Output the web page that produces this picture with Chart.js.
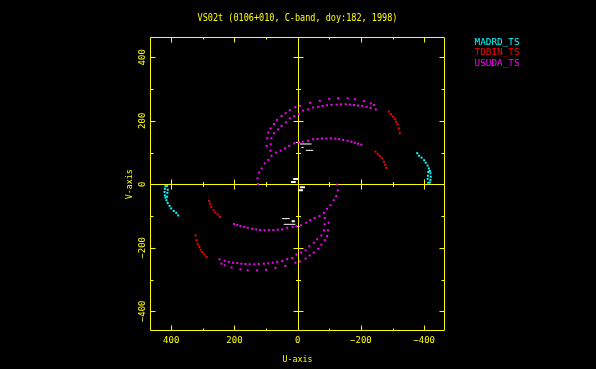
<!DOCTYPE html>
<html>
<head>
<meta charset="utf-8">
<title>VS02t uv coverage</title>
<script src="https://cdn.jsdelivr.net/npm/chart.js@4.4.0/dist/chart.umd.min.js"></script>
<style>
  html, body { margin: 0; padding: 0; background: #000; }
  #uv { display: block; }
</style>
</head>
<body>
<canvas id="uv" width="596" height="369"></canvas>
<script>
// labels and ticks
var chartTitle = 'VS02t (0106+010, C-band, doy:182, 1998)';
var xTitle = 'U-axis';
var yTitle = 'V-axis';
var majorTicks = [-400, -200, 0, 200, 400];
var minorTicks = [-300, -100, 100, 300];
var seriesNames = ['MADRD_TS', 'TDBIN_TS', 'USUDA_TS'];
var seriesColors = ['#00ffff', '#ff0000', '#ff00ff'];

// MADRD_TS (cyan), u/v in the units of the plot axes
var madrdUpperU = [-378, -384, -392, -400, -405, -411, -415, -418, -420, -421, -420, -418, -413, -412, -411, -413];
var madrdUpperV = [98, 90, 84, 76, 68, 59, 50, 42, 35, 24, 14, 6, 39, 27, 17, 5];
var madrdLowerU = [378, 384, 392, 400, 405, 411, 415, 418, 420, 421, 420, 418, 413, 412, 411, 413];
var madrdLowerV = [-98, -90, -84, -76, -68, -59, -50, -42, -35, -24, -14, -6, -39, -27, -17, -5];

// TDBIN_TS (red)
var tdbinUpperU = [-288, -295, -302, -307, -311, -316, -320, -323, -246, -253, -260, -266, -273, -277, -280];
var tdbinUpperV = [229, 221, 213, 206, 197, 189, 176, 161, 103, 95, 89, 82, 71, 61, 52];
var tdbinLowerU = [288, 295, 302, 307, 311, 316, 320, 323, 246, 253, 260, 266, 273, 277, 280];
var tdbinLowerV = [-229, -221, -213, -206, -197, -189, -176, -161, -103, -95, -89, -82, -71, -61, -52];

// USUDA_TS (magenta), three tracks above the u axis and their mirror below
var usudaUpperU = [
  98, 96, 93, 86, 75, 65, 51, 38, 25, 7, -7, -39, -70, -100, -128, -158, -181, -209, -231, -241,
  86, 85, 83, 75, 62, 51, 37, 25, 11, -4, -17, -33, -49, -65, -79, -93, -107, -123, -137, -152, -165, -178, -191, -204, -218, -231, -247,
  125, 127, 122, 114, 104, 93, 83, 69, 54, 40, 27, 11, -3, -16, -33, -49, -63, -77, -91, -105, -119, -131, -144, -158, -170, -181, -191, -201
];
var usudaUpperV = [
  121, 145, 163, 176, 190, 203, 215, 224, 234, 243, 247, 257, 263, 269, 271, 271, 268, 262, 255, 250,
  106, 126, 145, 161, 173, 184, 195, 208, 215, 221, 232, 236, 242, 244, 247, 249, 250, 251, 252, 252, 251, 250, 248, 247, 244, 241, 236,
  1, 19, 37, 50, 66, 77, 90, 100, 106, 113, 121, 129, 132, 134, 137, 142, 143, 144, 144, 145, 144, 142, 140, 137, 134, 131, 128, 125
];
var usudaLowerU = [
  -98, -96, -93, -86, -75, -65, -51, -38, -25, -7, 7, 39, 70, 100, 128, 158, 181, 209, 231, 241,
  -86, -85, -83, -75, -62, -51, -37, -25, -11, 4, 17, 33, 49, 65, 79, 93, 107, 123, 137, 152, 165, 178, 191, 204, 218, 231, 247,
  -125, -127, -122, -114, -104, -93, -83, -69, -54, -40, -27, -11, 3, 16, 33, 49, 63, 77, 91, 105, 119, 131, 144, 158, 170, 181, 191, 201
];
var usudaLowerV = [
  -121, -145, -163, -176, -190, -203, -215, -224, -234, -243, -247, -257, -263, -269, -271, -271, -268, -262, -255, -250,
  -106, -126, -145, -161, -173, -184, -195, -208, -215, -221, -232, -236, -242, -244, -247, -249, -250, -251, -252, -252, -251, -250, -248, -247, -244, -241, -236,
  -1, -19, -37, -50, -66, -77, -90, -100, -106, -113, -121, -129, -132, -134, -137, -142, -143, -144, -144, -145, -144, -142, -140, -137, -134, -131, -128, -125
];

// short white tracks near the origin: start u, end u, v
var whiteThinU0 = [6, -7, -12, -26, 49, 44, 6];
var whiteThinU1 = [-7, -44, -19, -49, 25, 7, -6];
var whiteThinV = [132, 127, 116, 107, -108, -126, -133];
var whiteThickU0 = [14, 21, -7, -2, 19];
var whiteThickU1 = [-2, 6, -23, -17, 9];
var whiteThickV = [17, 7, -9, -19, -116];


var YELLOW = '#ffff00';
var FONT = '"DejaVu Sans Mono", "Liberation Mono", monospace';

function toPoints(us, vs) {
    return us.map(function(u, i) { return { x: u, y: vs[i] }; });
}

function toSegments(u0, u1, vs) {
    var out = [];
    vs.forEach(function(v, i) {
        out.push({ x: u0[i], y: v }, { x: u1[i], y: v }, { x: null, y: null });
    });
    return out;
}

function tickText(v) {
    return v < 0 ? '\u2212' + (-v) : String(v);
}

function crisp(p) {
    return Math.round(p) + 0.5;
}

function dotSet(idx, upperU, upperV, lowerU, lowerV) {
    return {
        label: seriesNames[idx],
        data: toPoints(upperU, upperV).concat(toPoints(lowerU, lowerV)),
        backgroundColor: seriesColors[idx],
        borderWidth: 0,
        pointStyle: 'rect',
        pointRadius: 1.4,
        pointHoverRadius: 1.4,
        showLine: false
    };
}

function lineSet(data, width) {
    return {
        label: '',
        data: data,
        borderColor: '#ffffff',
        borderWidth: width,
        pointRadius: 0,
        showLine: true,
        spanGaps: false
    };
}

// frame, zero axes, ticks and all text in PGPLOT style
var pgFrame = {
    id: 'pgFrame',
    beforeDraw: function(chart) {
        var ctx = chart.ctx;
        ctx.save();
        ctx.fillStyle = '#000';
        ctx.fillRect(0, 0, chart.width, chart.height);
        ctx.restore();
    },
    beforeDatasetsDraw: function(chart) {
        var ctx = chart.ctx, a = chart.chartArea;
        var xs = chart.scales.x, ys = chart.scales.y;
        var L = crisp(a.left), R = crisp(a.right - 1), T = crisp(a.top), B = crisp(a.bottom - 1);
        var x0 = crisp(xs.getPixelForValue(0)), y0 = crisp(ys.getPixelForValue(0));

        ctx.save();
        ctx.strokeStyle = YELLOW;
        ctx.lineWidth = 1;
        ctx.beginPath();
        ctx.rect(L, T, R - L, B - T);
        // zero lines
        ctx.moveTo(x0, T); ctx.lineTo(x0, B);
        ctx.moveTo(L, y0); ctx.lineTo(R, y0);

        function xTick(v, len, axisLen) {
            var px = crisp(xs.getPixelForValue(v));
            ctx.moveTo(px, B); ctx.lineTo(px, B - len);
            ctx.moveTo(px, T); ctx.lineTo(px, T + len);
            if (v !== 0) { ctx.moveTo(px, y0 - axisLen); ctx.lineTo(px, y0 + axisLen); }
        }
        function yTick(v, len, axisLen) {
            var py = crisp(ys.getPixelForValue(v));
            ctx.moveTo(L, py); ctx.lineTo(L + len, py);
            ctx.moveTo(R, py); ctx.lineTo(R - len, py);
            if (v !== 0) { ctx.moveTo(x0 - axisLen, py); ctx.lineTo(x0 + axisLen, py); }
        }
        majorTicks.forEach(function(v) { xTick(v, 5, 5); yTick(v, 5, 5); });
        minorTicks.forEach(function(v) { xTick(v, 2, 2.5); yTick(v, 3, 2.5); });
        ctx.stroke();
        ctx.restore();
    },
    afterDraw: function(chart) {
        var ctx = chart.ctx, a = chart.chartArea;
        var xs = chart.scales.x, ys = chart.scales.y;
        var midX = (a.left + a.right) / 2;

        ctx.save();
        ctx.fillStyle = YELLOW;
        ctx.textBaseline = 'alphabetic';
        ctx.textAlign = 'center';

        ctx.font = '10px ' + FONT;
        ctx.fillText(chartTitle, midX, a.top - 16, 200);

        ctx.font = '9px ' + FONT;
        majorTicks.forEach(function(v) {
            ctx.fillText(tickText(v), xs.getPixelForValue(v), a.bottom + 11.5);
        });
        majorTicks.forEach(function(v) {
            ctx.save();
            ctx.translate(a.left - 5, ys.getPixelForValue(v));
            ctx.rotate(-Math.PI / 2);
            ctx.fillText(tickText(v), 0, 0);
            ctx.restore();
        });

        ctx.fillText(xTitle, midX, a.bottom + 30.5, 30);
        ctx.save();
        ctx.translate(a.left - 18.5, ys.getPixelForValue(0));
        ctx.rotate(-Math.PI / 2);
        ctx.fillText(yTitle, 0, 0, 30);
        ctx.restore();

        // legend: coloured names only
        ctx.textAlign = 'left';
        ctx.font = '9.5px ' + FONT;
        seriesNames.forEach(function(name, i) {
            ctx.fillStyle = seriesColors[i];
            ctx.fillText(name, a.right + 29.5, a.top + 7.5 + i * 10.5, 45);
        });
        ctx.restore();
    }
};

var ctx = document.getElementById('uv').getContext('2d');
new Chart(ctx, {
    type: 'scatter',
    data: {
        datasets: [
            dotSet(0, madrdUpperU, madrdUpperV, madrdLowerU, madrdLowerV),
            dotSet(1, tdbinUpperU, tdbinUpperV, tdbinLowerU, tdbinLowerV),
            dotSet(2, usudaUpperU, usudaUpperV, usudaLowerU, usudaLowerV),
            lineSet(toSegments(whiteThinU0, whiteThinU1, whiteThinV), 1),
            lineSet(toSegments(whiteThickU0, whiteThickU1, whiteThickV), 2)
        ]
    },
    options: {
        responsive: false,
        animation: false,
        events: [],
        layout: { padding: { left: 150, right: 151, top: 37, bottom: 38 } },
        scales: {
            x: { type: 'linear', display: false, reverse: true, min: -466, max: 467 },
            y: { type: 'linear', display: false, min: -462, max: 464 }
        },
        plugins: {
            legend: { display: false },
            tooltip: { enabled: false },
            title: { display: false }
        }
    },
    plugins: [pgFrame]
});
</script>
</body>
</html>
